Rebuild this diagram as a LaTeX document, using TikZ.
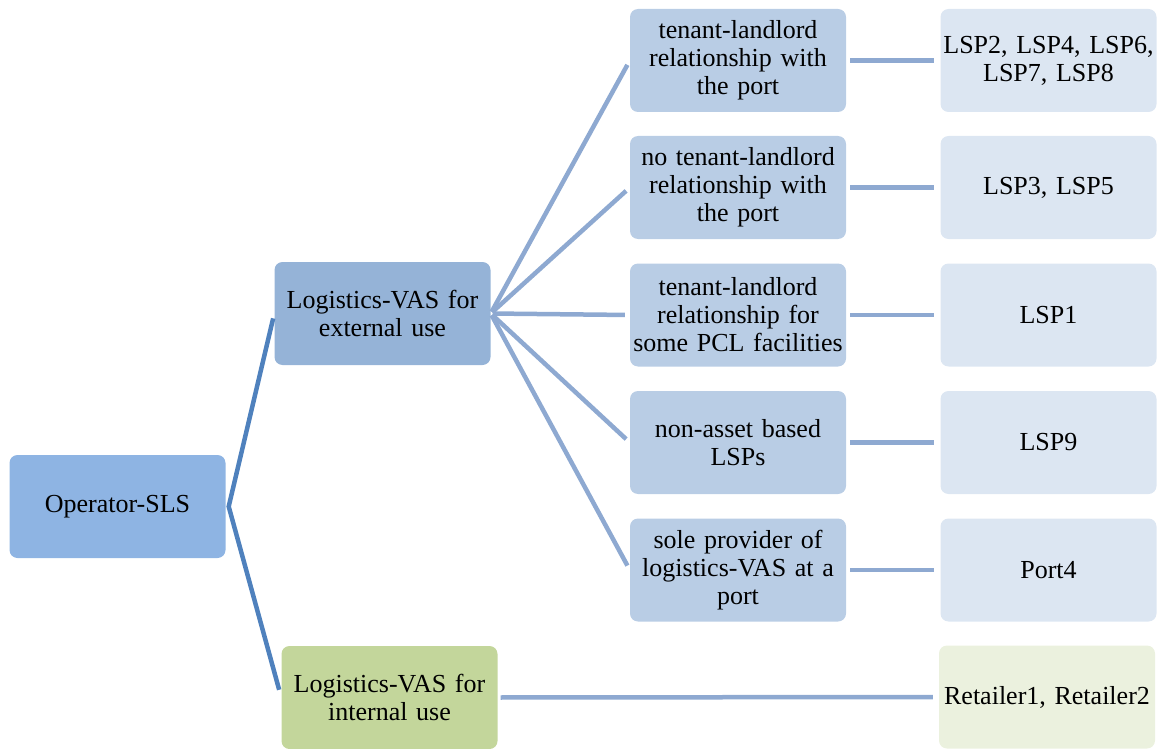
\documentclass[tikz,border=0pt]{standalone}
\usepackage{fontspec}
\newfontfamily\boxfont{Liberation Serif}
\usetikzlibrary{calc}
\definecolor{rootfill}{HTML}{8EB4E3}
\definecolor{extfill}{HTML}{95B3D7}
\definecolor{midfill}{HTML}{B9CDE5}
\definecolor{leaffill}{HTML}{DCE6F2}
\definecolor{intfill}{HTML}{C3D69B}
\definecolor{retfill}{HTML}{EBF1DE}
\definecolor{rootline}{HTML}{4F81BD}
\definecolor{branchline}{HTML}{8EA9D1}
\tikzset{
  box/.style={rounded corners=8pt, minimum width=216pt, minimum height=103pt,
    inner sep=0pt, align=center, text width=214pt,
    font=\boxfont\fontsize{26}{28}\selectfont},
  rootlink/.style={draw=rootline, line width=4.5pt, line join=miter},
  link/.style={draw=branchline, line width=4.5pt},
}
\begin{document}
\begin{tikzpicture}[x=1pt,y=-1pt]
\useasboundingbox (0,0) rectangle (1168,749);
% first level
\node[box, fill=rootfill] (root) at (117.5,506.5) {Operator-SLS};
\node[box, fill=extfill]  (ext)  at (382.5,313.5) {Logistics-VAS for\\external use};
\node[box, fill=intfill]  (int)  at (389.5,697.5) {Logistics-VAS for\\internal use};
% second level: relationship types
\node[box, fill=midfill] (m1) at (738,60.5)  {tenant-landlord\\relationship with\\the port};
\node[box, fill=midfill] (m2) at (738,187.5) {no tenant-landlord\\relationship with\\the port};
\node[box, fill=midfill] (m3) at (738,315)   {tenant-landlord\\relationship for\\some PCL facilities};
\node[box, fill=midfill] (m4) at (738,442.5) {non-asset based\\LSPs};
\node[box, fill=midfill] (m5) at (738,570)   {sole provider of\\logistics-VAS at a\\port};
% third level: cases
\node[box, fill=leaffill] (l1) at (1048.5,60.5)  {LSP2, LSP4, LSP6,\\LSP7, LSP8};
\node[box, fill=leaffill] (l2) at (1048.5,187.5) {LSP3, LSP5};
\node[box, fill=leaffill] (l3) at (1048.5,315)   {LSP1};
\node[box, fill=leaffill] (l4) at (1048.5,442.5) {LSP9};
\node[box, fill=leaffill] (l5) at (1048.5,570)   {Port4};
\node[box, fill=retfill]  (r1) at (1047,697)     {Retailer1, Retailer2};
% connectors
\coordinate (fork) at ($(root.east)+(3,0)$);
\draw[rootlink, shorten <=5pt, shorten >=8pt] (ext.west) -- (fork) -- (int.west);
\foreach \m in {m1,m2,m3,m4,m5}
  \draw[link, shorten <=2pt, shorten >=5pt] (ext.east) -- (\m.west);
\foreach \m/\l in {m1/l1,m2/l2,m3/l3,m4/l4,m5/l5}
  \draw[link, shorten <=4pt, shorten >=6pt] (\m.east) -- (\l.west);
\draw[link, shorten <=3pt, shorten >=6pt] (int.east) -- (r1.west);
\end{tikzpicture}
\end{document}
